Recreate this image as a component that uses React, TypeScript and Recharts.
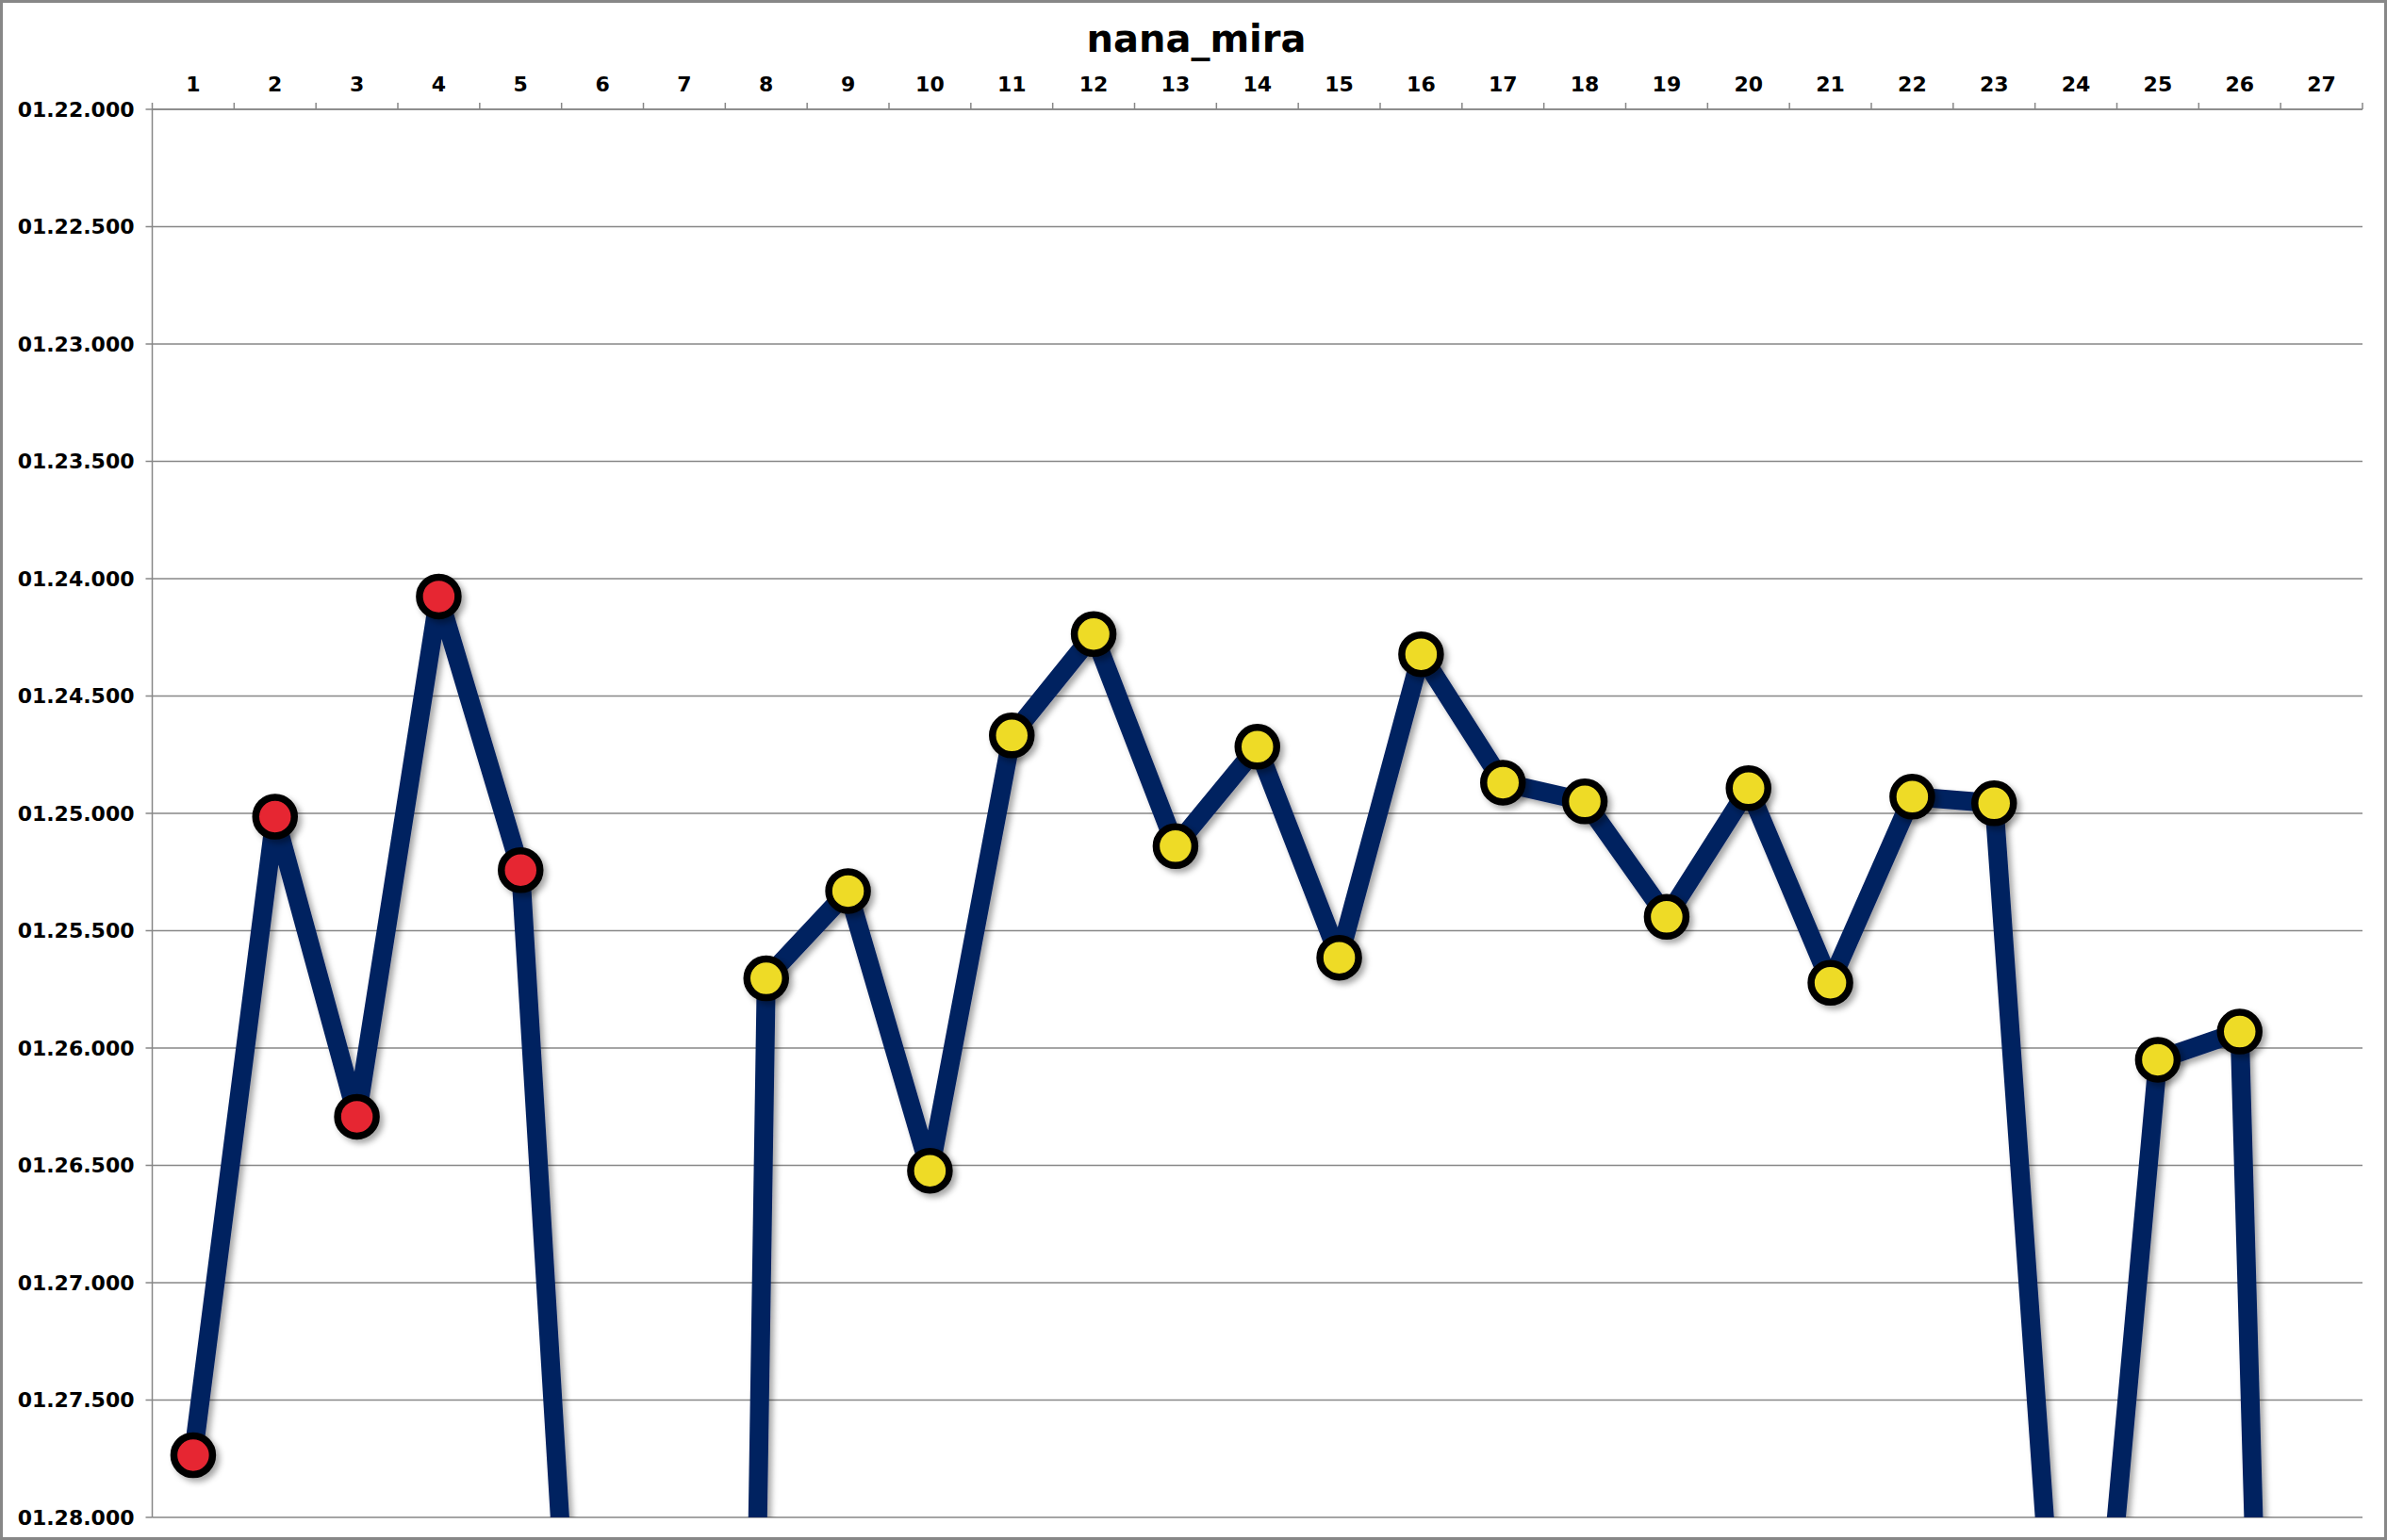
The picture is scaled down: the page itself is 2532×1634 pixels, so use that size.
import { LineChart, Line, XAxis, YAxis, CartesianGrid } from "recharts"

// lap numbers and lap times (seconds)
const laps = [1, 2, 3, 4, 5, 6, 7, 8, 9, 10, 11, 12, 13, 14, 15, 16, 17, 18, 19, 20, 21, 22, 23, 24, 25, 26, 27]
const lapTimes = [
  87.735, 85.014, 86.293, 84.076, 85.242, 91.0, 108.0, 85.703, 85.331, 86.523,
  84.668, 84.236, 85.14, 84.716, 85.615, 84.322, 84.869, 84.949, 85.441, 84.893,
  85.722, 84.929, 84.957, 89.9, 86.05, 85.93, 98.2,
]
// laps of the first stint (red markers), the rest are yellow
const firstStintLaps = [1, 2, 3, 4, 5]
const yTicks = [82, 82.5, 83, 83.5, 84, 84.5, 85, 85.5, 86, 86.5, 87, 87.5, 88]

const W = 2532
const H = 1634
const LEFT = 161.5
const RIGHT = 26
const BAND = (W - LEFT - RIGHT) / laps.length

const data = laps.map((lap, i) => ({ lap, time: lapTimes[i] }))
const edgeTicks = [...laps.map((l) => l - 0.5), laps.length + 0.5]

const fmtTime = (v: number) => {
  const min = Math.floor(v / 60)
  const sec = Math.floor(v % 60)
  const ms = Math.round((v - Math.floor(v)) * 1000)
  return `${String(min).padStart(2, "0")}.${String(sec).padStart(2, "0")}.${String(ms).padStart(3, "0")}`
}

const font = { fontFamily: "'DejaVu Sans', sans-serif", fontWeight: 700 }

const XTick = (props: any) => {
  const { x, y, payload } = props
  const lap = payload.value + 0.5
  if (lap > laps.length) return <g />
  return (
    <text x={x + BAND / 2} y={y} textAnchor="middle" fontSize={22} fill="#000" {...font}>
      {lap}
    </text>
  )
}

const LapDot = (props: any) => {
  const { cx, cy, payload } = props
  if (cx == null || cy == null) return <g key={`d-${payload.lap}`} />
  const fill = firstStintLaps.includes(payload.lap) ? "#e62733" : "#eedb26"
  return (
    <circle
      key={`d-${payload.lap}`}
      cx={cx}
      cy={cy}
      r={20.5}
      fill={fill}
      stroke="#000"
      strokeWidth={7.5}
      filter="url(#lapShadow)"
    />
  )
}

export default function App() {
  return (
    <div
      style={{
        position: "absolute",
        top: 0,
        left: 0,
        width: W,
        height: H,
        background: "#fff",
        boxSizing: "border-box",
        border: "3px solid #878787",
        overflow: "hidden",
      }}
    >
      <svg width={0} height={0} style={{ position: "absolute" }}>
        <defs>
          <filter id="lapShadow" x="-50%" y="-50%" width="200%" height="200%">
            <feDropShadow dx={4} dy={4} stdDeviation={3} floodColor="#000" floodOpacity={0.35} />
          </filter>
        </defs>
      </svg>
      <div
        style={{
          position: "absolute",
          top: 18,
          left: 0,
          width: W,
          textAlign: "center",
          fontSize: 40,
          lineHeight: "40px",
          color: "#000",
          ...font,
        }}
      >
        nana_mira
      </div>
      <div style={{ position: "absolute", top: -3, left: -3 }}>
        <LineChart width={W} height={H} data={data} margin={{ top: 76, right: RIGHT, bottom: 24, left: 0 }}>
          <CartesianGrid vertical={false} stroke="#878787" strokeWidth={1.5} />
          <XAxis
            dataKey="lap"
            type="number"
            orientation="top"
            domain={[0.5, laps.length + 0.5]}
            ticks={edgeTicks}
            interval={0}
            height={40}
            tickSize={7}
            tickMargin={12}
            axisLine={{ stroke: "#878787", strokeWidth: 1.5 }}
            tickLine={{ stroke: "#878787", strokeWidth: 1.5 }}
            tick={<XTick />}
          />
          <YAxis
            type="number"
            reversed
            allowDataOverflow
            domain={[82, 88]}
            ticks={yTicks}
            interval={0}
            width={LEFT}
            tickSize={7}
            tickMargin={12}
            tickFormatter={fmtTime}
            axisLine={{ stroke: "#878787", strokeWidth: 1.5 }}
            tickLine={{ stroke: "#878787", strokeWidth: 1.5 }}
            tick={{ fill: "#000", fontSize: 22, ...font }}
          />
          <Line
            type="linear"
            dataKey="time"
            stroke="#022060"
            strokeWidth={20}
            strokeLinejoin="round"
            filter="url(#lapShadow)"
            dot={<LapDot />}
            activeDot={false}
            isAnimationActive={false}
          />
        </LineChart>
      </div>
    </div>
  )
}
